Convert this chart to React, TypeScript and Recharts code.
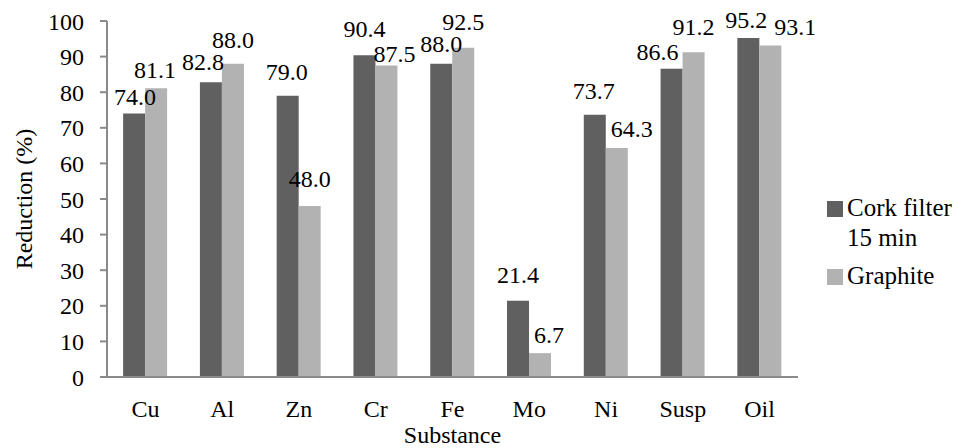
import React from "react";
import { BarChart, Bar, XAxis, YAxis, LabelList, Legend } from "recharts";

const substances = ["Cu", "Al", "Zn", "Cr", "Fe", "Mo", "Ni", "Susp", "Oil"];
const corkFilter = [74.0, 82.8, 79.0, 90.4, 88.0, 21.4, 73.7, 86.6, 95.2];
const graphite = [81.1, 88.0, 48.0, 87.5, 92.5, 6.7, 64.3, 91.2, 93.1];
const yTicks = [0, 10, 20, 30, 40, 50, 60, 70, 80, 90, 100];
const edgeTicks = [0, 1, 2, 3, 4, 5, 6, 7, 8, 9];

// Hand-placed value labels: horizontal nudge and lift above the bar top (px)
const corkLabelDx = [1, -8, -1, 0, 0, 0, -1, -14, -2];
const corkLabelLift = [9, 12, 16, 18, 12, 18, 16, 9, 10];
const graphiteLabelDx = [-1, 0, 0, 8, 0, 9, 15, 0, 25];
const graphiteLabelLift = [10, 16, 19, 4, 18, 10, 11, 17, 11];

const data = substances.map((name, i) => ({
  name,
  cork: corkFilter[i],
  graphite: graphite[i],
}));

const FONT = "Liberation Serif";
const FS = 24;
const AXIS = "#8a8a8a";
const DARK = "#606060";
const LIGHT = "#b2b2b2";

const legendItems = [
  { color: DARK, lines: ["Cork filter", "15 min"] },
  { color: LIGHT, lines: ["Graphite"] },
];

const renderLegend = () => (
  <div style={{ fontFamily: FONT, fontSize: 25, color: "#000", lineHeight: "30px", width: 135 }}>
    {legendItems.map((item) => (
      <div key={item.lines[0]} style={{ display: "flex", alignItems: "flex-start", marginBottom: 8 }}>
        <div
          style={{
            width: 16,
            height: 16,
            background: item.color,
            marginTop: 8,
            marginRight: 4,
            flex: "none",
          }}
        />
        <div>
          {item.lines.map((l) => (
            <div key={l}>{l}</div>
          ))}
        </div>
      </div>
    ))}
  </div>
);

const makeLabel = (dxs: number[], lifts: number[]) => (props: any) => {
  const { x, y, width, value, index } = props;
  return (
    <text
      x={Number(x) + Number(width) / 2 + dxs[index]}
      y={Number(y) - lifts[index]}
      textAnchor="middle"
      fill="#000"
      fontSize={FS}
      fontFamily={FONT}
    >
      {Number(value).toFixed(1)}
    </text>
  );
};

export default function App() {
  return (
    <div style={{ position: "absolute", left: 0, top: 0 }}>
      <BarChart
        width={962}
        height={448}
        data={data}
        margin={{ top: 21, right: 29, bottom: 0, left: 0 }}
        barCategoryGap="21%"
        barGap={0}
      >
        <XAxis
          xAxisId="edge"
          type="number"
          domain={[0, 9]}
          ticks={edgeTicks}
          tick={false}
          axisLine={false}
          tickLine={{ stroke: AXIS, strokeWidth: 2 }}
          tickSize={8}
          height={0}
          allowDataOverflow
        />
        <XAxis
          xAxisId="cat"
          dataKey="name"
          height={71}
          axisLine={{ stroke: AXIS, strokeWidth: 2 }}
          tickLine={false}
          tickMargin={17}
          tick={{ fill: "#000", fontSize: FS, fontFamily: FONT }}
          label={{
            value: "Substance",
            position: "insideBottom",
            offset: 5,
            fill: "#000",
            fontSize: FS,
            fontFamily: FONT,
          }}
        />
        <YAxis
          domain={[0, 100]}
          ticks={yTicks}
          width={107}
          axisLine={{ stroke: AXIS, strokeWidth: 2 }}
          tickLine={{ stroke: AXIS, strokeWidth: 2 }}
          tickSize={7}
          tickMargin={16}
          tick={{ fill: "#000", fontSize: FS, fontFamily: FONT }}
          label={{
            value: "Reduction (%)",
            angle: -90,
            position: "insideLeft",
            offset: 23,
            style: { textAnchor: "middle" },
            fill: "#000",
            fontSize: FS,
            fontFamily: FONT,
          }}
        />
        <Legend
          layout="vertical"
          align="right"
          verticalAlign="middle"
          content={renderLegend}
          wrapperStyle={{ left: 827, top: 193, width: 135 }}
        />
        <Bar dataKey="cork" xAxisId="cat" fill={DARK} isAnimationActive={false}>
          <LabelList dataKey="cork" content={makeLabel(corkLabelDx, corkLabelLift)} />
        </Bar>
        <Bar dataKey="graphite" xAxisId="cat" fill={LIGHT} isAnimationActive={false}>
          <LabelList dataKey="graphite" content={makeLabel(graphiteLabelDx, graphiteLabelLift)} />
        </Bar>
      </BarChart>
    </div>
  );
}
